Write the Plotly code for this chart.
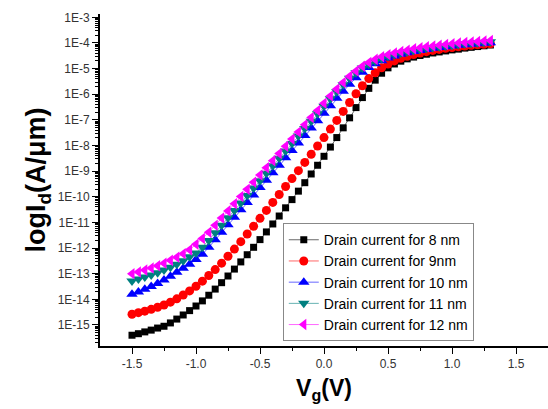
import plotly.graph_objects as go

vg = [round(-1.5 + 0.05 * i, 2) for i in range(57)]

log_8nm = [-15.40, -15.34, -15.27, -15.20, -15.12, -15.05, -14.92, -14.77, -14.61, -14.44,
           -14.26, -14.06, -13.84, -13.60, -13.35, -13.09, -12.82, -12.54, -12.26, -11.97,
           -11.67, -11.37, -11.06, -10.75, -10.43, -10.11, -9.78, -9.45, -9.11, -8.77,
           -8.42, -8.06, -7.69, -7.31, -6.92, -6.52, -6.13, -5.77, -5.45, -5.18,
           -4.97, -4.82, -4.71, -4.62, -4.55, -4.49, -4.44, -4.39, -4.35, -4.31,
           -4.27, -4.24, -4.20, -4.17, -4.14, -4.11, -4.08]
log_9nm = [-14.58, -14.52, -14.46, -14.39, -14.31, -14.22, -14.11, -13.98, -13.83, -13.67,
           -13.49, -13.29, -13.07, -12.84, -12.59, -12.32, -12.04, -11.75, -11.45, -11.15,
           -10.84, -10.53, -10.22, -9.91, -9.60, -9.29, -8.98, -8.66, -8.34, -8.02,
           -7.69, -7.36, -7.02, -6.67, -6.32, -5.98, -5.67, -5.39, -5.16, -4.97,
           -4.82, -4.70, -4.60, -4.52, -4.45, -4.39, -4.34, -4.29, -4.25, -4.21,
           -4.18, -4.15, -4.12, -4.09, -4.07, -4.05, -4.03]
log_10nm = [-13.80, -13.71, -13.61, -13.50, -13.38, -13.25, -13.10, -12.94, -12.79, -12.63,
            -12.45, -12.24, -11.97, -11.68, -11.38, -11.09, -10.80, -10.51, -10.22, -9.93,
            -9.64, -9.35, -9.06, -8.77, -8.48, -8.19, -7.90, -7.61, -7.32, -7.03,
            -6.74, -6.45, -6.16, -5.88, -5.61, -5.36, -5.14, -4.96, -4.81, -4.69,
            -4.59, -4.51, -4.44, -4.38, -4.33, -4.29, -4.25, -4.21, -4.18, -4.15,
            -4.12, -4.09, -4.07, -4.05, -4.03, -4.01, -3.99]
log_11nm = [-13.28, -13.21, -13.13, -13.05, -12.96, -12.86, -12.75, -12.63, -12.49, -12.34,
            -12.19, -11.97, -11.70, -11.40, -11.11, -10.82, -10.53, -10.24, -9.95, -9.66,
            -9.37, -9.08, -8.79, -8.50, -8.21, -7.92, -7.63, -7.34, -7.05, -6.76,
            -6.47, -6.18, -5.90, -5.63, -5.38, -5.16, -4.98, -4.83, -4.71, -4.61,
            -4.52, -4.45, -4.39, -4.34, -4.29, -4.25, -4.21, -4.18, -4.15, -4.12,
            -4.09, -4.06, -4.03, -4.01, -3.99, -3.97, -3.95]
log_12nm = [-13.00, -12.93, -12.86, -12.78, -12.69, -12.59, -12.48, -12.36, -12.22, -12.07,
            -11.85, -11.63, -11.38, -11.11, -10.83, -10.55, -10.27, -9.99, -9.71, -9.43,
            -9.15, -8.87, -8.59, -8.31, -8.03, -7.75, -7.47, -7.19, -6.91, -6.63,
            -6.35, -6.07, -5.80, -5.54, -5.30, -5.09, -4.91, -4.76, -4.64, -4.54,
            -4.46, -4.39, -4.33, -4.28, -4.23, -4.19, -4.15, -4.12, -4.09, -4.06,
            -4.03, -4.00, -3.98, -3.96, -3.94, -3.92, -3.90]

names = ["Drain current for 8 nm", "Drain current for 9nm", "Drain current for 10 nm",
         "Drain current for 11 nm", "Drain current for 12 nm"]
series = [log_8nm, log_9nm, log_10nm, log_11nm, log_12nm]
colors = ["#000000", "#FF0000", "#0000FF", "#008080", "#FF00FF"]
symbols = ["square", "circle", "triangle-up", "triangle-down", "triangle-left"]
sizes = [7, 9, 10, 10, 10]

ytick_exp = list(range(-3, -16, -1))
ytick_text = ["1E%d" % e for e in ytick_exp]
xtick_vals = [-1.5, -1.0, -0.5, 0.0, 0.5, 1.0, 1.5]
xtick_text = ["-1.5", "-1.0", "-0.5", "0.0", "0.5", "1.0", "1.5"]

fig = go.Figure()
for name, vals, c, s, sz in zip(names, series, colors, symbols, sizes):
    fig.add_trace(go.Scatter(
        x=vg, y=[10 ** v for v in vals], name=name, mode="lines+markers",
        line=dict(color=c, width=0.6),
        marker=dict(symbol=s, color=c, size=sz, line=dict(width=0)),
    ))

minor_y = [k * 10.0 ** e for e in range(-16, -2) for k in range(2, 10)]

fig.update_layout(
    width=548, height=409,
    margin=dict(l=100, r=0, t=14, b=63),
    paper_bgcolor="white", plot_bgcolor="white",
    font=dict(family="Liberation Sans, Arial, sans-serif", color="black"),
    showlegend=True,
    legend=dict(
        x=0.408, y=0.37, xanchor="left", yanchor="top",
        bgcolor="white", bordercolor="#888888", borderwidth=1,
        font=dict(size=14, color="black"),
        tracegroupgap=0, itemwidth=30,
    ),
    xaxis=dict(
        range=[-1.75, 1.75], tickvals=xtick_vals, ticktext=xtick_text,
        showline=True, linecolor="black", linewidth=1.8,
        ticks="outside", ticklen=6, tickwidth=1.2, tickcolor="black",
        showgrid=False, zeroline=False,
        tickfont=dict(size=12, color="#333333"),
        minor=dict(tickvals=[-1.25, -0.75, -0.25, 0.25, 0.75, 1.25], ticks="outside",
                   ticklen=3, tickcolor="black", showgrid=False),
        title=dict(text="<b>V<sub>g</sub>(V)</b>", font=dict(size=23), standoff=10),
    ),
    yaxis=dict(
        type="log", range=[-15.82, -2.87],
        tickvals=[10.0 ** e for e in ytick_exp], ticktext=ytick_text,
        showline=True, linecolor="black", linewidth=1.8,
        ticks="outside", ticklen=6, tickwidth=1.2, tickcolor="black",
        showgrid=False, zeroline=False,
        tickfont=dict(size=12, color="#333333"),
        minor=dict(tickvals=minor_y, ticks="outside", ticklen=3,
                   tickcolor="black", showgrid=False),
        title=dict(text="<b>logI<sub>d</sub>(A/μm)</b>", font=dict(size=27), standoff=4),
    ),
)

fig.write_html("out.html")
